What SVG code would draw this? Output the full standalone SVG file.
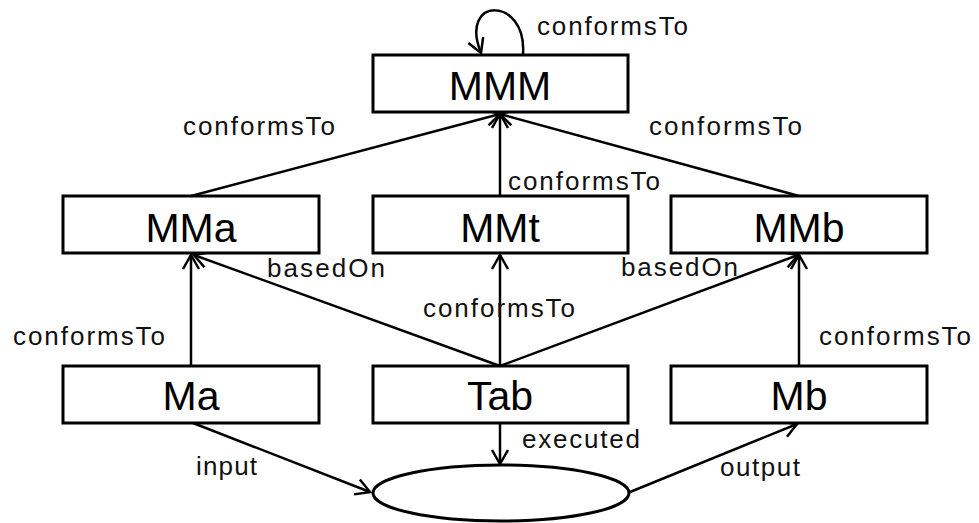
<svg xmlns="http://www.w3.org/2000/svg" width="979" height="523" viewBox="0 0 979 523">
<style>
.box{fill:#fff;stroke:#000;stroke-width:3}
.nt{font-family:"Liberation Sans",Arial,sans-serif;font-size:41px;text-anchor:middle;fill:#000}
.lb{font-family:"Liberation Sans",Arial,sans-serif;font-size:26px;fill:#111}
.c{fill:none;stroke:#000;stroke-width:2.5;marker-end:url(#ah)}
</style>
<defs>
<marker id="ah" markerUnits="userSpaceOnUse" markerWidth="30" markerHeight="30" refX="0" refY="0" viewBox="-16 -15 30 30" orient="auto">
<path d="M-14,-8 L0,0 L-14,8" fill="none" stroke="#000" stroke-width="2.5"/>
</marker>
</defs>
<rect width="979" height="523" fill="#fff"/>
<g id="connectors">
<path class="c" d="M523,54 C527,-4 458,-4 481,53"/>
<path class="c" d="M191,196 L500,114"/>
<path class="c" d="M500,196 L500,114"/>
<path class="c" d="M799,196 L500,114"/>
<path class="c" d="M191,366 L191,255"/>
<path class="c" d="M500,366 L194,255"/>
<path class="c" d="M500,366 L500,255"/>
<path class="c" d="M500,366 L798,255"/>
<path class="c" d="M799,366 L799,255"/>
<path class="c" d="M500,423 L500,464"/>
<path class="c" d="M193,423 L370,492"/>
<path class="c" d="M630,492 L797,424"/>
</g>
<g id="labels">
<text class="lb" x="537" y="35" textLength="151" lengthAdjust="spacing">conformsTo</text>
<text class="lb" x="183" y="135" textLength="152" lengthAdjust="spacing">conformsTo</text>
<text class="lb" x="649" y="135" textLength="153" lengthAdjust="spacing">conformsTo</text>
<text class="lb" x="508" y="190" textLength="152" lengthAdjust="spacing">conformsTo</text>
<text class="lb" x="267" y="277" textLength="118" lengthAdjust="spacing">basedOn</text>
<text class="lb" x="621" y="276" textLength="117" lengthAdjust="spacing">basedOn</text>
<text class="lb" x="423" y="317" textLength="152" lengthAdjust="spacing">conformsTo</text>
<text class="lb" x="13" y="345" textLength="152" lengthAdjust="spacing">conformsTo</text>
<text class="lb" x="819" y="345" textLength="152" lengthAdjust="spacing">conformsTo</text>
<text class="lb" x="522" y="448" textLength="118" lengthAdjust="spacing">executed</text>
<text class="lb" x="196" y="475" textLength="61" lengthAdjust="spacing">input</text>
<text class="lb" x="720" y="476" textLength="80" lengthAdjust="spacing">output</text>
</g>
<g id="MMM"><rect class="box" x="373" y="55" width="255" height="57"/><text class="nt" x="500" y="100">MMM</text></g>
<g id="MMa"><rect class="box" x="63" y="196" width="256" height="57"/><text class="nt" x="191" y="242">MMa</text></g>
<g id="MMt"><rect class="box" x="373" y="196" width="255" height="57"/><text class="nt" x="500" y="242">MMt</text></g>
<g id="MMb"><rect class="box" x="671" y="196" width="256" height="57"/><text class="nt" x="799" y="242">MMb</text></g>
<g id="Ma"><rect class="box" x="63" y="366" width="256" height="57"/><text class="nt" x="191" y="410">Ma</text></g>
<g id="Tab"><rect class="box" x="373" y="366" width="255" height="57"/><text class="nt" x="500" y="410">Tab</text></g>
<g id="Mb"><rect class="box" x="671" y="366" width="256" height="57"/><text class="nt" x="799" y="410">Mb</text></g>
<g id="exec"><ellipse class="box" cx="501" cy="493" rx="128" ry="28"/></g>
</svg>
